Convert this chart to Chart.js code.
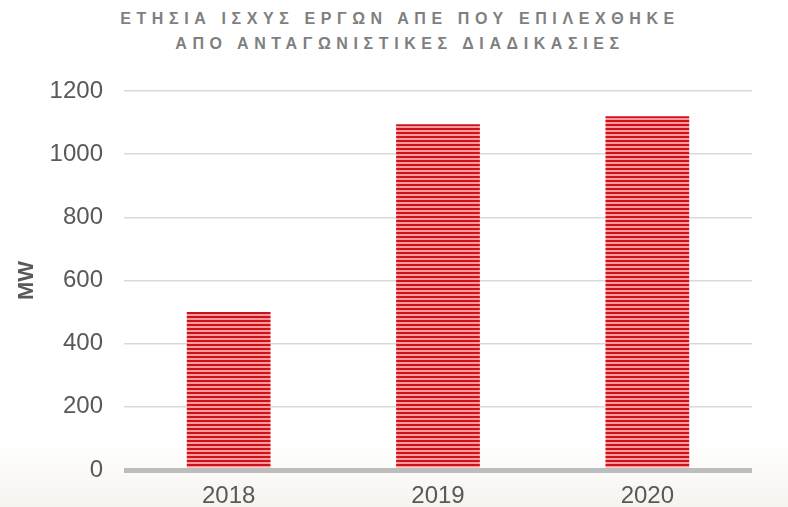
<!DOCTYPE html>
<html>
<head>
<meta charset="utf-8">
<script src="https://cdn.jsdelivr.net/npm/chart.js@4.4.0/dist/chart.umd.min.js"></script>
<style>
  html, body { margin: 0; padding: 0; }
  body {
    width: 788px; height: 507px; overflow: hidden; position: relative;
    background: linear-gradient(to bottom, #ffffff 0%, #ffffff 87%, #f6f4ef 100%);
    font-family: "Liberation Sans", Arial, sans-serif;
  }
  #title {
    position: absolute; left: 0; top: 6px; width: 788px; text-align: center;
    font-weight: bold; font-size: 16px; letter-spacing: 5.6px; color: #7f7f7f; line-height: 25px;
    padding-left: 6px;
  }
  #wrap { position: absolute; left: 0; top: 0; width: 788px; height: 507px; }
</style>
</head>
<body>
<div id="title">ΕΤΗΣΙΑ ΙΣΧΥΣ ΕΡΓΩΝ ΑΠΕ ΠΟΥ ΕΠΙΛΕΧΘΗΚΕ<br>ΑΠΟ ΑΝΤΑΓΩΝΙΣΤΙΚΕΣ ΔΙΑΔΙΚΑΣΙΕΣ</div>
<div id="wrap"><canvas id="c"></canvas></div>
<script>
const years = ['2018', '2019', '2020'];
const capacityMW = [500, 1095, 1120];
const yTicks = [0, 200, 400, 600, 800, 1000, 1200];

// striped red fill like the original bars
function stripes() {
  const p = document.createElement('canvas');
  p.width = 4; p.height = 4;
  const g = p.getContext('2d');
  g.fillStyle = '#f39c9c';
  g.fillRect(0, 0, 4, 4);
  g.fillStyle = '#d0101c';
  g.fillRect(0, 0, 4, 2);
  return g.createPattern(p, 'repeat');
}

const graph_cont = document.getElementById('c');
let myChart = new Chart(graph_cont, {
    type: 'bar',
    data: {
        labels: years,
        datasets: [{
            label: 'MW',
            data: capacityMW,
            backgroundColor: stripes(),
            borderWidth: 0,
            categoryPercentage: 1,
            barPercentage: 0.4
        }]
    },
    options: {
        responsive: true,
        maintainAspectRatio: false,
        animation: false,
        layout: { padding: { top: 91, right: 36, left: 0, bottom: 0 } },
        scales: {
            y: {
                min: 0, max: 1200,
                afterBuildTicks: s => { s.ticks = yTicks.map(v => ({ value: v })); },
                afterFit: s => { s.width = 124; },
                border: { display: false },
                grid: {
                    color: c => c.tick && c.tick.value === 0 ? '#bdbdbd' : '#d9d9d9',
                    lineWidth: c => c.tick && c.tick.value === 0 ? 5 : 1.5,
                    drawTicks: false
                },
                ticks: {
                    color: '#595959', padding: 21,
                    callback: v => String(v),
                    font: { family: 'Liberation Sans', size: 24 }
                },
                title: {
                    display: true, text: 'MW', color: '#595959', padding: { top: 14, bottom: 0 },
                    font: { family: 'Liberation Sans', size: 22, weight: 'bold' }
                }
            },
            x: {
                afterFit: s => { s.height = 37; },
                border: { display: false },
                grid: { display: false, drawTicks: false },
                ticks: {
                    color: '#595959', padding: 12,
                    font: { family: 'Liberation Sans', size: 24 }
                }
            }
        },
        plugins: {
            legend: { display: false },
            tooltip: { enabled: false }
        }
    }
});
</script>
</body>
</html>
